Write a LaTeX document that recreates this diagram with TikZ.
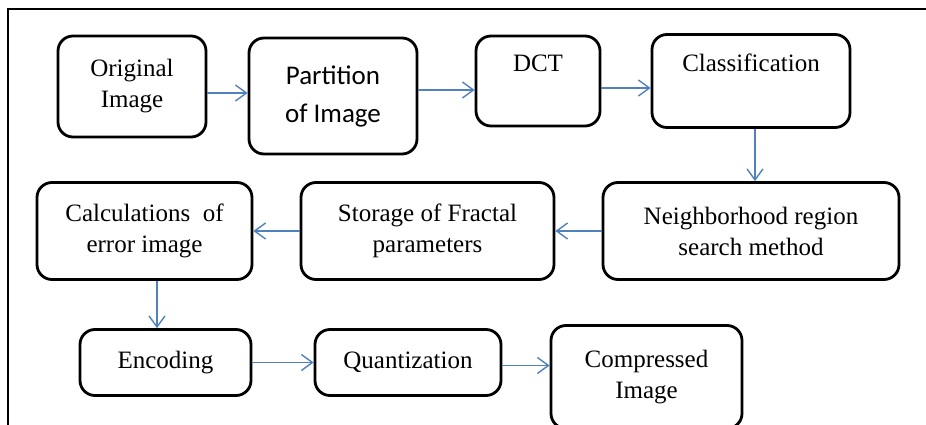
\documentclass[tikz,border=0pt]{standalone}
\usepackage{fontspec}
\setmainfont{Liberation Serif}
\newfontfamily\calibrifont{Carlito}
\usetikzlibrary{arrows.meta,positioning}
\definecolor{flowblue}{HTML}{4F81BD}

\begin{document}
\begin{tikzpicture}[on grid,
   box/.style={draw,line width=2.8pt,rounded corners=15pt,align=center,
     font=\fontsize{25}{31}\selectfont},
   topbox/.style={box,text height=17pt,text depth=35pt},
   flow/.style={->,>={Straight Barb[length=11pt,width=16pt]},draw=flowblue,line width=1.4pt}]
   \useasboundingbox (0,0) rectangle (926pt,-425pt);
   % frame
   \draw[line width=2pt] (8pt,-425pt) -- (8pt,-9pt) -- (926pt,-9pt);
   % first row
   \node[box,minimum width=148pt,minimum height=101pt] (orig) at (132pt,-86.5pt) {Original\\Image};
   \node[box,minimum width=168pt,minimum height=116pt,font=\calibrifont\fontsize{27}{38}\selectfont]
      (part) [below right=9.5pt and 201pt of orig] {Partition\\of Image};
   \node[topbox,minimum width=124pt,minimum height=90pt] (dct) [above right=15pt and 205pt of part] {DCT};
   \node[topbox,minimum width=198pt,minimum height=93pt] (cls) [right=213pt of dct] {Classification};
   % second row
   \node[box,minimum width=296pt,minimum height=97pt] (nbr) [below=150pt of cls] {Neighborhood region\\search method};
   \node[box,minimum width=253pt,minimum height=97pt] (sto) [left=323.5pt of nbr] {Storage of Fractal\\parameters};
   \node[box,minimum width=215pt,minimum height=97pt] (calc) [left=283pt of sto] {Calculations\ \ of\\error image};
   % third row
   \node[box,minimum width=171pt,minimum height=66pt] (enc) [below right=131.5pt and 21pt of calc] {Encoding};
   \node[box,minimum width=186pt,minimum height=66pt] (qua) [right=242.5pt of enc] {Quantization};
   \node[box,minimum width=191pt,minimum height=103pt] (cmp) [below right=14.5pt and 238.5pt of qua] {Compressed\\Image};
   % connectors
   \draw[flow] ([yshift=-6.5pt]orig.east) -- ([yshift=-6.5pt]orig.east -| part.west);
   \draw[flow] ([yshift=6pt]part.east) -- ([yshift=6pt]part.east -| dct.west);
   \draw[flow] ([yshift=-7pt]dct.east) -- ([yshift=-7pt]dct.east -| cls.west);
   \draw[flow] ([xshift=4pt]cls.south) -- ([xshift=4pt]cls.south |- nbr.north);
   \draw[flow] (nbr.west) -- (sto.east);
   \draw[flow] (sto.west) -- (calc.east);
   \draw[flow] ([xshift=12.5pt]calc.south) -- ([xshift=12.5pt]calc.south |- enc.north);
   \draw[flow] (enc.east) -- (qua.west);
   \draw[flow] ([yshift=-3pt]qua.east) -- ([yshift=-3pt]qua.east -| cmp.west);
\end{tikzpicture}
\end{document}
